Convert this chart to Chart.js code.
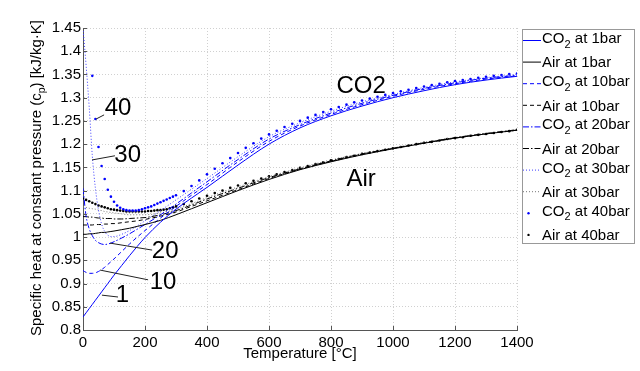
<!DOCTYPE html>
<html>
<head>
<meta charset="utf-8">
<script src="https://cdn.jsdelivr.net/npm/chart.js@4.4.1/dist/chart.umd.min.js"></script>
<style>
  html, body { margin: 0; padding: 0; background: #fff; }
  canvas { display: block; }
</style>
</head>
<body>
<canvas id="cpChart" width="640" height="371"></canvas>
<script>
// temperature grid for the line curves [°C]
const temps = [0, 10, 20, 30, 40, 50, 60, 70, 80, 90, 100, 125, 150, 175, 200, 250, 300, 350, 400, 500, 600, 700, 800, 900, 1000, 1100, 1200, 1300, 1400];

// specific heat cp [kJ/kg.K]
const co2_1bar  = [0.828, 0.837, 0.846, 0.855, 0.864, 0.873, 0.882, 0.891, 0.900, 0.909, 0.918, 0.939, 0.960, 0.980, 0.999, 1.032, 1.060, 1.084, 1.107, 1.155, 1.200, 1.235, 1.261, 1.282, 1.300, 1.315, 1.328, 1.338, 1.346];
const co2_10bar = [0.928, 0.924, 0.922, 0.922, 0.923, 0.926, 0.930, 0.935, 0.941, 0.947, 0.953, 0.969, 0.985, 1.000, 1.014, 1.041, 1.066, 1.090, 1.113, 1.162, 1.206, 1.239, 1.264, 1.285, 1.303, 1.318, 1.330, 1.340, 1.347];
const co2_20bar = [1.105, 1.045, 1.018, 1.003, 0.993, 0.988, 0.985, 0.984, 0.985, 0.987, 0.990, 0.998, 1.007, 1.017, 1.027, 1.048, 1.071, 1.095, 1.119, 1.167, 1.211, 1.242, 1.267, 1.288, 1.305, 1.320, 1.332, 1.342, 1.348];
const co2_30bar = [1.450, 1.370, 1.280, 1.175, 1.105, 1.058, 1.028, 1.012, 1.004, 1.001, 1.001, 1.006, 1.014, 1.024, 1.035, 1.057, 1.080, 1.103, 1.126, 1.173, 1.216, 1.246, 1.271, 1.291, 1.307, 1.322, 1.334, 1.343, 1.350];
const air_1bar  = [1.006, 1.006, 1.007, 1.007, 1.008, 1.009, 1.010, 1.010, 1.011, 1.012, 1.013, 1.016, 1.019, 1.023, 1.027, 1.036, 1.048, 1.061, 1.074, 1.100, 1.124, 1.145, 1.162, 1.177, 1.190, 1.202, 1.213, 1.222, 1.230];
const air_10bar = [1.026, 1.026, 1.026, 1.026, 1.027, 1.027, 1.027, 1.028, 1.028, 1.029, 1.029, 1.031, 1.033, 1.035, 1.038, 1.045, 1.054, 1.066, 1.078, 1.102, 1.126, 1.146, 1.163, 1.178, 1.191, 1.202, 1.213, 1.222, 1.230];
const air_20bar = [1.044, 1.044, 1.043, 1.043, 1.042, 1.041, 1.041, 1.040, 1.040, 1.040, 1.039, 1.039, 1.040, 1.041, 1.042, 1.048, 1.057, 1.069, 1.082, 1.105, 1.128, 1.147, 1.164, 1.179, 1.191, 1.203, 1.214, 1.223, 1.231];
const air_30bar = [1.065, 1.064, 1.062, 1.061, 1.060, 1.058, 1.057, 1.055, 1.054, 1.053, 1.052, 1.050, 1.048, 1.048, 1.048, 1.052, 1.060, 1.072, 1.085, 1.108, 1.130, 1.149, 1.166, 1.180, 1.192, 1.204, 1.214, 1.223, 1.231];

// 40 bar curves are drawn as dots only, on a finer grid
const temps40 = [0, 10, 20, 30, 40, 50, 60, 70, 80, 90, 100, 110, 120, 130, 140, 150, 160, 170, 180, 190, 200, 210, 220, 230, 240, 250, 260, 270, 280, 290, 300,
  325, 350, 375, 400, 425, 450, 475, 500, 525, 550, 575, 600, 625, 650, 675, 700, 725, 750, 775, 800, 825, 850, 875, 900, 925, 950, 975, 1000,
  1025, 1050, 1075, 1100, 1125, 1150, 1175, 1200, 1225, 1250, 1275, 1300, 1325, 1350, 1375, 1400];
const co2_40bar = [null, null, null, 1.347, 1.254, 1.194, 1.153, 1.125, 1.102, 1.087, 1.076, 1.068, 1.063, 1.060, 1.058, 1.057, 1.057, 1.057, 1.058, 1.060, 1.062, 1.064, 1.066, 1.069, 1.072, 1.075, 1.078, 1.081, 1.084, 1.087, 1.090,
  1.099, 1.110, 1.122, 1.135, 1.147, 1.159, 1.170, 1.181, 1.192, 1.202, 1.212, 1.221, 1.229, 1.237, 1.244, 1.250, 1.257, 1.263, 1.269, 1.275, 1.280, 1.285, 1.290, 1.294, 1.298, 1.302, 1.306, 1.310,
  1.314, 1.317, 1.321, 1.324, 1.327, 1.330, 1.333, 1.336, 1.338, 1.340, 1.343, 1.345, 1.347, 1.349, 1.351, 1.352];
const air_40bar = [1.083, 1.080, 1.077, 1.074, 1.071, 1.068, 1.066, 1.064, 1.062, 1.060, 1.059, 1.058, 1.057, 1.056, 1.055, 1.055, 1.055, 1.055, 1.055, 1.055, 1.055, 1.056, 1.056, 1.057, 1.058, 1.058, 1.059, 1.060, 1.062, 1.064, 1.066,
  1.071, 1.077, 1.083, 1.089, 1.095, 1.100, 1.106, 1.111, 1.116, 1.121, 1.126, 1.131, 1.135, 1.140, 1.144, 1.149, 1.153, 1.157, 1.161, 1.165, 1.168, 1.172, 1.175, 1.179, 1.182, 1.185, 1.188, 1.191,
  1.194, 1.197, 1.200, 1.203, 1.205, 1.208, 1.211, 1.213, 1.215, 1.218, 1.220, 1.222, 1.224, 1.226, 1.228, 1.231];

const xTicks = [0, 200, 400, 600, 800, 1000, 1200, 1400];
const yTicks = [0.8, 0.85, 0.9, 0.95, 1, 1.05, 1.1, 1.15, 1.2, 1.25, 1.3, 1.35, 1.4, 1.45];

// text labels on the plot (data units), with their pointer lines
const notes = [
  { text: '40', at: [113, 1.276], line: [[42, 1.254], [68, 1.263]] },
  { text: '30', at: [144, 1.175], line: [[29, 1.166], [103, 1.175]] },
  { text: '20', at: [265, 0.970], line: [[87, 0.987], [223, 0.972]] },
  { text: '10', at: [258, 0.903], line: [[55, 0.929], [210, 0.908]] },
  { text: '1',  at: [127, 0.875], line: [[61, 0.875], [113, 0.871]] },
  { text: 'CO2', at: [897, 1.325] },
  { text: 'Air', at: [897, 1.125] }
];

const FONT = '"Liberation Sans", Arial, Helvetica, sans-serif';
const BLUE = '#0000ff';

const pts = (xs, ys) => xs.map((x, i) => ({ x: x, y: ys[i] }));

const lineSet = (label, ys, color, dash, width) => ({
  label: label,
  data: pts(temps, ys),
  borderColor: color,
  backgroundColor: color,
  borderWidth: width || 1,
  borderDash: dash,
  pointRadius: 0,
  cubicInterpolationMode: 'monotone',
  fill: false
});

const dotSet = (label, ys, color) => ({
  label: label,
  data: pts(temps40, ys),
  borderColor: color,
  backgroundColor: color,
  showLine: false,
  pointRadius: 1.3,
  pointBorderWidth: 0,
  pointHoverRadius: 0
});

const datasets = [
  lineSet('CO2 at 1bar', co2_1bar, BLUE, []),
  lineSet('Air at 1bar', air_1bar, '#000', []),
  lineSet('CO2 at 10bar', co2_10bar, BLUE, [4, 3]),
  lineSet('Air at 10bar', air_10bar, '#000', [4, 3]),
  lineSet('CO2 at 20bar', co2_20bar, BLUE, [6, 2, 1.5, 2]),
  lineSet('Air at 20bar', air_20bar, '#000', [6, 2, 1.5, 2]),
  lineSet('CO2 at 30bar', co2_30bar, '#3b3bff', [1, 2]),
  lineSet('Air at 30bar', air_30bar, '#777', [1, 2]),
  dotSet('CO2 at 40bar', co2_40bar, BLUE),
  dotSet('Air at 40bar', air_40bar, '#000')
];

// draws "CO" + subscript "2" + rest, or plain text
function drawChem(ctx, text, x, y, size, align) {
  const m = text.match(/^(.*?CO)2(.*)$/);
  ctx.font = size + 'px ' + FONT;
  if (!m) {
    ctx.textAlign = align || 'left';
    ctx.fillText(text, x, y);
    return;
  }
  const sub = Math.round(size * 0.7);
  const w1 = ctx.measureText(m[1]).width;
  const w3 = ctx.measureText(m[2]).width;
  ctx.font = sub + 'px ' + FONT;
  const w2 = ctx.measureText('2').width;
  let sx = x;
  if (align === 'center') sx = x - (w1 + w2 + w3) / 2;
  ctx.textAlign = 'left';
  ctx.font = size + 'px ' + FONT;
  ctx.fillText(m[1], sx, y);
  ctx.font = sub + 'px ' + FONT;
  ctx.fillText('2', sx + w1, y + size * 0.3);
  ctx.font = size + 'px ' + FONT;
  ctx.fillText(m[2], sx + w1 + w2, y);
}

const decorations = {
  id: 'decorations',
  afterDraw(chart) {
    const ctx = chart.ctx;
    const xs = chart.scales.x, ys = chart.scales.y;
    const area = chart.chartArea;
    ctx.save();

    // inward tick marks (left and bottom axes only)
    ctx.strokeStyle = '#555';
    ctx.lineWidth = 1;
    ctx.beginPath();
    xTicks.forEach(t => {
      const px = Math.round(xs.getPixelForValue(t)) + 0.5;
      ctx.moveTo(px, area.bottom);
      ctx.lineTo(px, area.bottom - 4);
    });
    yTicks.forEach(t => {
      const py = Math.round(ys.getPixelForValue(t)) + 0.5;
      ctx.moveTo(area.left, py);
      ctx.lineTo(area.left + 4, py);
    });
    ctx.stroke();

    // notes with pointer lines
    ctx.fillStyle = '#000';
    ctx.textBaseline = 'middle';
    notes.forEach(n => {
      if (n.line) {
        ctx.strokeStyle = '#222';
        ctx.beginPath();
        ctx.moveTo(xs.getPixelForValue(n.line[0][0]), ys.getPixelForValue(n.line[0][1]));
        ctx.lineTo(xs.getPixelForValue(n.line[1][0]), ys.getPixelForValue(n.line[1][1]));
        ctx.stroke();
      }
      ctx.font = '24px ' + FONT;
      ctx.textAlign = 'center';
      ctx.fillText(n.text, xs.getPixelForValue(n.at[0]), ys.getPixelForValue(n.at[1]));
    });

    // axis titles
    ctx.textBaseline = 'alphabetic';
    ctx.font = '15px ' + FONT;
    ctx.textAlign = 'center';
    ctx.fillText('Temperature [°C]', (area.left + area.right) / 2, 358);

    const a = 'Specific heat at constant pressure (c', b = 'p', c = ') [kJ/kg·K]';
    ctx.save();
    ctx.translate(41, (area.top + area.bottom) / 2 - 1);
    ctx.rotate(-Math.PI / 2);
    ctx.textAlign = 'left';
    const wa = ctx.measureText(a).width, wc = ctx.measureText(c).width;
    ctx.font = '10.5px ' + FONT;
    const wb = ctx.measureText(b).width;
    let sx = -(wa + wb + wc) / 2;
    ctx.font = '15px ' + FONT;
    ctx.fillText(a, sx, 0);
    ctx.font = '10.5px ' + FONT;
    ctx.fillText(b, sx + wa, 4);
    ctx.font = '15px ' + FONT;
    ctx.fillText(c, sx + wa + wb, 0);
    ctx.restore();

    // legend box
    const lx = 522.5, ly = 29.5, lw = 112, lh = 214;
    ctx.fillStyle = '#fff';
    ctx.fillRect(lx, ly, lw, lh);
    ctx.strokeStyle = '#999';
    ctx.strokeRect(lx, ly, lw, lh);
    chart.data.datasets.forEach((ds, i) => {
      const y = 40.5 + i * 21.6;
      if (ds.showLine === false) {
        ctx.fillStyle = ds.backgroundColor;
        ctx.beginPath();
        ctx.arc(528.5, y, 1.2, 0, Math.PI * 2);
        ctx.fill();
      } else {
        ctx.strokeStyle = ds.borderColor;
        ctx.lineWidth = ds.borderWidth;
        ctx.setLineDash(ds.borderDash || []);
        ctx.beginPath();
        ctx.moveTo(523, y);
        ctx.lineTo(541, y);
        ctx.stroke();
        ctx.setLineDash([]);
      }
      ctx.fillStyle = '#000';
      const isCO2 = ds.label.indexOf('CO2') === 0;
      drawChem(ctx, ds.label, 542, y + (isCO2 ? 2.5 : 5.3), 15, 'left');
    });

    ctx.restore();
  }
};

const tickFmt = v => String(Number(v.toFixed(2)));

new Chart(document.getElementById('cpChart').getContext('2d'), {
  type: 'line',
  data: { datasets: datasets },
  options: {
    responsive: false,
    animation: false,
    events: [],
    layout: { padding: { top: 28, right: 123, left: 0, bottom: 0 } },
    plugins: { legend: { display: false }, tooltip: { enabled: false } },
    scales: {
      x: {
        type: 'linear',
        min: 0,
        max: 1400,
        afterBuildTicks: s => { s.ticks = xTicks.map(v => ({ value: v })); },
        afterFit: s => { s.height = 41; },
        ticks: { font: { family: FONT, size: 15 }, color: '#000', padding: 4, maxRotation: 0, autoSkip: false, callback: tickFmt },
        grid: { color: '#d0d0d0', drawTicks: false },
        border: { display: true, color: '#555', dash: [1, 2] }
      },
      y: {
        type: 'linear',
        min: 0.8,
        max: 1.45,
        afterBuildTicks: s => { s.ticks = yTicks.map(v => ({ value: v })); },
        afterFit: s => { s.width = 83; },
        ticks: { font: { family: FONT, size: 15 }, color: '#000', padding: 2, autoSkip: false, callback: tickFmt },
        grid: { color: '#d0d0d0', drawTicks: false },
        border: { display: true, color: '#555', dash: [1, 2] }
      }
    }
  },
  plugins: [decorations]
});
</script>
</body>
</html>
